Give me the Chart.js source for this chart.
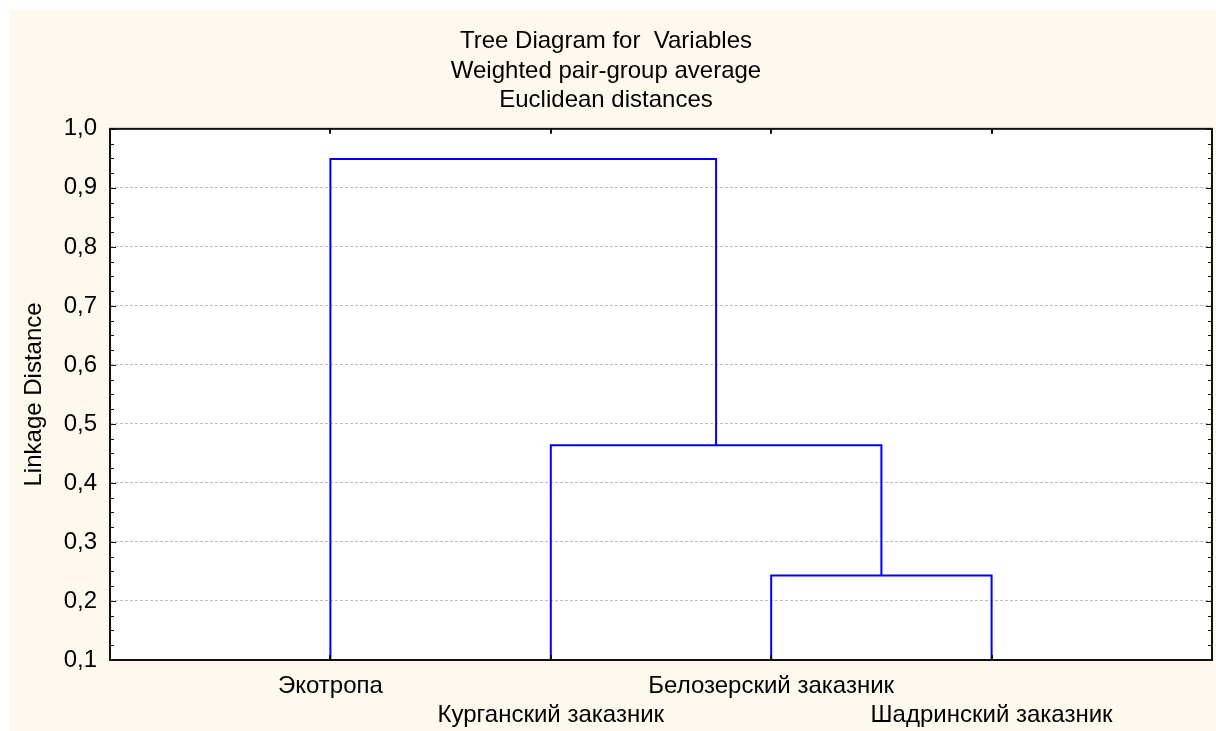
<!DOCTYPE html>
<html>
<head>
<meta charset="utf-8">
<script src="https://cdn.jsdelivr.net/npm/chart.js@4.4.1/dist/chart.umd.min.js"></script>
<style>
    html, body { margin: 0; padding: 0; background: #ffffff; }
    #wrap { position: relative; width: 1216px; height: 731px; }
    #paper { position: absolute; left: 9px; top: 10px; right: 0; bottom: 0; background: #fef9ef; }
    #dendro { position: absolute; left: 0; top: 0; }
</style>
</head>
<body>
<div id="wrap">
    <div id="paper"></div>
    <canvas id="dendro" width="1216" height="731"></canvas>
</div>
<script>
// leaves in plotting order, left to right
const leaves = ['Экотропа', 'Курганский заказник', 'Белозерский заказник', 'Шадринский заказник'];

// merges: node ids 0..3 are leaves, 4.. are the clusters built below
const mergeLeft = [2, 1, 0];
const mergeRight = [3, 4, 5];
const mergeHeights = [0.243, 0.464, 0.949];

const yTicks = [0.1, 0.2, 0.3, 0.4, 0.5, 0.6, 0.7, 0.8, 0.9, 1.0];
const titleLines = ['Tree Diagram for  Variables', 'Weighted pair-group average', 'Euclidean distances'];
const yTitle = 'Linkage Distance';

const yMin = yTicks[0];
const yMax = yTicks[yTicks.length - 1];
const fontFamily = '"Liberation Sans", Arial, sans-serif';
const textColor = '#000000';

function buildLinks() {
    const nodeX = leaves.map((_, i) => i + 1);
    const nodeY = leaves.map(() => yMin);
    const links = [];

    mergeHeights.forEach((h, i) => {
        const a = mergeLeft[i];
        const b = mergeRight[i];
        links.push([
            { x: nodeX[a], y: nodeY[a] },
            { x: nodeX[a], y: h },
            { x: nodeX[b], y: h },
            { x: nodeX[b], y: nodeY[b] },
        ]);
        nodeX.push((nodeX[a] + nodeX[b]) / 2);
        nodeY.push(h);
    });

    return links;
}

const datasets = buildLinks().map((points) => ({
    data: points,
    showLine: true,
    borderColor: '#0000ff',
    borderWidth: 2,
    pointRadius: 0,
    tension: 0,
    clip: false,
}));

const framePlugin = {
    id: 'frame',
    beforeDraw(chart) {
        const { ctx, chartArea } = chart;
        ctx.save();
        ctx.fillStyle = '#ffffff';
        ctx.fillRect(chartArea.left, chartArea.top, chartArea.right - chartArea.left, chartArea.bottom - chartArea.top);
        ctx.restore();
    },
    afterDatasetsDraw(chart) {
        const { ctx, chartArea, scales } = chart;
        const { left, right, top, bottom } = chartArea;
        ctx.save();
        ctx.strokeStyle = '#111111';
        ctx.lineWidth = 1;

        // minor + major ticks on the left and right edges, pointing inward
        const step = (yTicks[1] - yTicks[0]) / 4;
        for (let k = 0; yMin + k * step <= yMax + 1e-9; k++) {
            const py = Math.round(scales.y.getPixelForValue(yMin + k * step)) + 0.5;
            const len = k % 4 === 0 ? 6 : 4;
            ctx.beginPath();
            ctx.moveTo(left, py);
            ctx.lineTo(left + len, py);
            ctx.moveTo(right, py);
            ctx.lineTo(right - len, py);
            ctx.stroke();
        }

        // ticks on the top and bottom edges at each leaf
        ctx.lineWidth = 2;
        leaves.forEach((_, i) => {
            const px = Math.round(scales.x.getPixelForValue(i + 1));
            ctx.beginPath();
            ctx.moveTo(px, top);
            ctx.lineTo(px, top + 5);
            ctx.moveTo(px, bottom);
            ctx.lineTo(px, bottom - 5);
            ctx.stroke();
        });

        ctx.lineWidth = 2;
        ctx.strokeRect(left, top, right - left, bottom - top);
        ctx.restore();
    },
};

new Chart(document.getElementById('dendro'), {
    type: 'scatter',
    data: { datasets },
    options: {
        responsive: false,
        animation: false,
        events: [],
        layout: { padding: { left: 0, right: 4, top: 0, bottom: 0 } },
        plugins: {
            legend: { display: false },
            tooltip: { enabled: false },
            title: {
                display: true,
                text: titleLines,
                color: textColor,
                font: { family: fontFamily, size: 24, weight: 'normal', lineHeight: 1.22 },
                padding: { top: 27, bottom: 14 },
            },
        },
        scales: {
            x: {
                type: 'linear',
                min: 0,
                max: leaves.length + 1,
                afterBuildTicks: (scale) => {
                    scale.ticks = leaves.map((_, i) => ({ value: i + 1 }));
                },
                afterFit: (scale) => {
                    scale.height = 71;
                },
                grid: { display: false, drawTicks: false },
                border: { display: false },
                ticks: {
                    autoSkip: false,
                    maxRotation: 0,
                    padding: 12,
                    color: textColor,
                    font: { family: fontFamily, size: 24, lineHeight: 1.21 },
                    callback: (value) => {
                        const i = Math.round(value) - 1;
                        return i % 2 === 1 ? ['', leaves[i]] : leaves[i];
                    },
                },
            },
            y: {
                min: yMin,
                max: yMax,
                afterBuildTicks: (scale) => {
                    scale.ticks = yTicks.map((v) => ({ value: v }));
                },
                afterFit: (scale) => {
                    scale.width = 110;
                },
                grid: {
                    drawTicks: false,
                    color: (c) => (c.tick && (c.tick.value <= yMin + 1e-9 || c.tick.value >= yMax - 1e-9) ? 'rgba(0,0,0,0)' : '#bdbdbd'),
                    lineWidth: 1,
                },
                border: { display: false, dash: [3, 2] },
                ticks: {
                    padding: 13,
                    color: textColor,
                    font: { family: fontFamily, size: 24 },
                    callback: (value) => Number(value).toFixed(1).replace('.', ','),
                },
                title: {
                    display: true,
                    text: yTitle,
                    color: textColor,
                    font: { family: fontFamily, size: 24 },
                    padding: { top: 20, bottom: 0 },
                },
            },
        },
    },
    plugins: [framePlugin],
});
</script>
</body>
</html>
